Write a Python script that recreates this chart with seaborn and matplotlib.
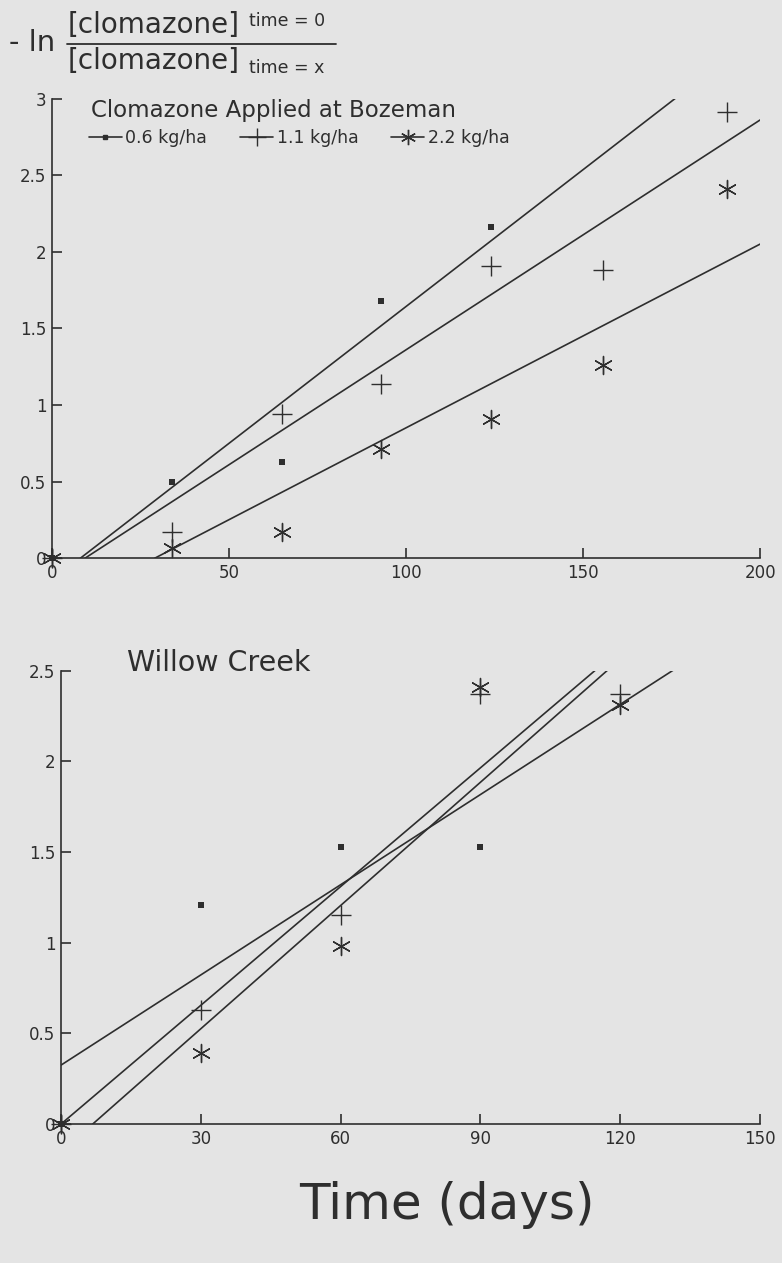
import numpy as np
import pandas as pd
import matplotlib
matplotlib.use('Agg')
import matplotlib.pyplot as plt
from matplotlib.lines import Line2D
import seaborn as sns

# --- Bozeman (top panel) ---
boz_low_x = [0, 34, 65, 93, 124]
boz_low_y = [0, 0.50, 0.63, 1.68, 2.16]
boz_mid_x = [0, 34, 65, 93, 124, 155.6, 190.7]
boz_mid_y = [0, 0.17, 0.94, 1.14, 1.91, 1.88, 2.91]
boz_high_x = [0, 34, 65, 93, 124, 155.6, 190.7]
boz_high_y = [0, 0.07, 0.17, 0.71, 0.91, 1.26, 2.41]
# fitted lines: end points
boz_fit_x = [[8, 176], [9.3, 200], [29, 200]]
boz_fit_y = [[0, 3.0], [0, 2.86], [0, 2.05]]

# --- Willow Creek (bottom panel) ---
wc_low_x = [0, 30, 60, 90]
wc_low_y = [0, 1.21, 1.53, 1.53]
wc_mid_x = [0, 30, 60, 90, 120]
wc_mid_y = [0, 0.63, 1.15, 2.37, 2.37]
wc_high_x = [0, 30, 60, 90, 120]
wc_high_y = [0, 0.39, 0.98, 2.41, 2.31]
wc_fit_x = [[0, 131.8], [0, 115], [6.8, 117.6]]
wc_fit_y = [[0.325, 2.51], [0, 2.51], [0, 2.51]]

rates = ['0.6 kg/ha', '1.1 kg/ha', '2.2 kg/ha']
markers = ['s', '+', (6, 2, 0)]
msizes = [4, 14, 13]

bg = '#e4e4e4'
ink = '#2e2e2e'

sns.set_style('ticks')
plt.rcParams['font.family'] = ['DejaVu Sans']
plt.rcParams['text.color'] = ink
plt.rcParams['axes.edgecolor'] = ink
plt.rcParams['xtick.color'] = ink
plt.rcParams['ytick.color'] = ink

fig = plt.figure(figsize=(7.82, 12.63), dpi=100, facecolor=bg)
ax1 = fig.add_axes([0.0665, 0.558, 0.9055, 0.364])
ax2 = fig.add_axes([0.078, 0.110, 0.894, 0.359])


def draw_panel(ax, xs, ys, fx, fy):
    for i in range(3):
        df = pd.DataFrame({'x': xs[i], 'y': ys[i]})
        sns.scatterplot(data=df, x='x', y='y', ax=ax, marker=markers[i],
                        s=msizes[i] ** 2, color=ink, edgecolor=ink,
                        linewidth=1.0 if i else 0, clip_on=False, zorder=3)
    for i in range(3):
        lf = pd.DataFrame({'x': fx[i], 'y': fy[i]})
        sns.lineplot(data=lf, x='x', y='y', ax=ax, color=ink, linewidth=1.2,
                     estimator=None, sort=False)
    ax.set_facecolor(bg)
    sns.despine(ax=ax)
    ax.spines['left'].set_linewidth(1.2)
    ax.spines['bottom'].set_linewidth(1.2)
    ax.tick_params(direction='in', length=7, width=1.2, labelsize=12, pad=4)
    ax.set_xlabel('')
    ax.set_ylabel('')


draw_panel(ax1, [boz_low_x, boz_mid_x, boz_high_x],
           [boz_low_y, boz_mid_y, boz_high_y], boz_fit_x, boz_fit_y)
ax1.set_xlim(0, 200)
ax1.set_ylim(0, 3)
ax1.set_xticks([0, 50, 100, 150, 200])
ax1.set_yticks([0, 0.5, 1, 1.5, 2, 2.5, 3])
ax1.set_yticklabels(['0', '0.5', '1', '1.5', '2', '2.5', '3'])
ax1.text(0.055, 0.975, 'Clomazone Applied at Bozeman', transform=ax1.transAxes,
         fontsize=16.5, va='center', ha='left')
handles = [Line2D([], [], color=ink, lw=1.2, marker=markers[i],
                  markersize=[3.5, 13, 11][i], markeredgewidth=1.0)
           for i in range(3)]
ax1.legend(handles, rates, loc='center left', bbox_to_anchor=(0.03, 0.915),
           ncol=3, frameon=False, fontsize=12.5, handlelength=1.9,
           handletextpad=0.2, columnspacing=1.9)

draw_panel(ax2, [wc_low_x, wc_mid_x, wc_high_x],
           [wc_low_y, wc_mid_y, wc_high_y], wc_fit_x, wc_fit_y)
ax2.set_xlim(0, 150)
ax2.set_ylim(0, 2.5)
ax2.set_xticks([0, 30, 60, 90, 120, 150])
ax2.set_yticks([0, 0.5, 1, 1.5, 2, 2.5])
ax2.set_yticklabels(['0', '0.5', '1', '1.5', '2', '2.5'])
ax2.text(0.095, 1.017, 'Willow Creek', transform=ax2.transAxes,
         fontsize=20.5, va='center', ha='left')

# y-axis label: - ln [clomazone]t=0 / [clomazone]t=x
fig.text(0.012, 1 - 43 / 1263, '- ln', fontsize=21, va='center', ha='left')
fig.text(0.087, 1 - 25 / 1263, '[clomazone]', fontsize=20, va='center', ha='left')
fig.text(0.319, 1 - 21 / 1263, 'time = 0', fontsize=12.5, va='center', ha='left')
fig.text(0.087, 1 - 61 / 1263, '[clomazone]', fontsize=20, va='center', ha='left')
fig.text(0.319, 1 - 68 / 1263, 'time = x', fontsize=12.5, va='center', ha='left')
fig.add_artist(Line2D([67 / 782, 336 / 782], [1 - 44 / 1263, 1 - 44 / 1263],
                      color=ink, lw=1.3, transform=fig.transFigure))

fig.text(0.572, 0.046, 'Time (days)', fontsize=36, va='center', ha='center')

fig.savefig('out.png', dpi=100, facecolor=bg)
